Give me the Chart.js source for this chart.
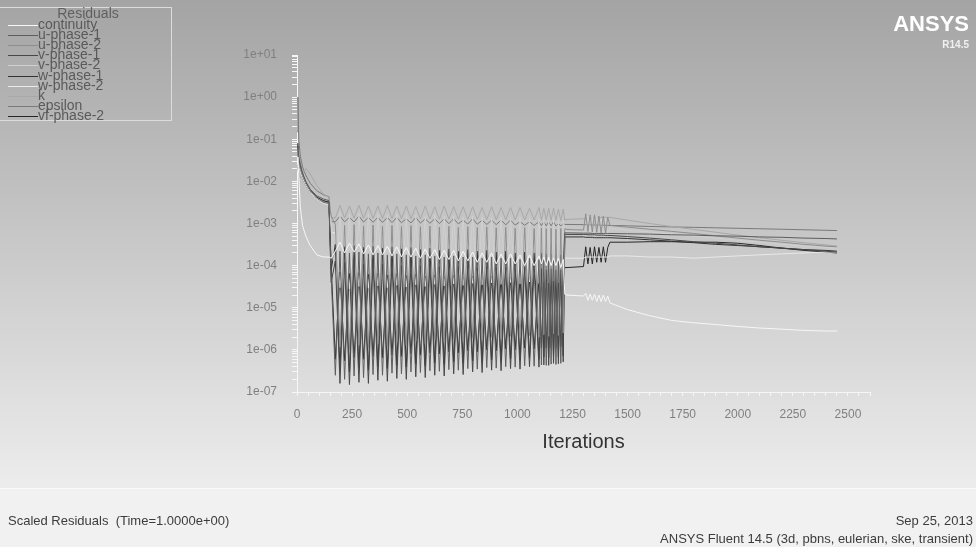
<!DOCTYPE html>
<html>
<head>
<meta charset="utf-8">
<script src="https://cdn.jsdelivr.net/npm/chart.js@4.4.1/dist/chart.umd.min.js"></script>
<style>
  body { margin: 0; background: #f1f1f1; }
  canvas { display: block; }
</style>
</head>
<body>
<canvas id="residuals" width="976" height="547"></canvas>
<script>
// iterations shared by every residual series
var iterations = [
  1, 4, 8, 15, 25, 40, 60, 90, 120, 145, 155,
  174, 195, 216, 238, 259, 281, 302, 324, 345, 367,
  388, 410, 431, 453, 474, 496, 517, 539, 560, 582,
  603, 625, 646, 668, 689, 711, 732, 754, 775, 797,
  818, 840, 861, 883, 904, 926, 947, 969, 990, 1012,
  1033, 1055, 1076, 1098,
  1109, 1120, 1131, 1142, 1153, 1164, 1175, 1186, 1197, 1208,
  1215,
  1225, 1300, 1310, 1320, 1330, 1340, 1350, 1360, 1370, 1380, 1390, 1400, 1410, 1420,
  1500, 1600, 1700, 1800, 1900, 2000, 2100, 2200, 2300, 2400, 2450
];

var continuity = [
  3.8e-2, 2.5e-2, 1.5e-2, 2.5e-3, 9e-4, 5e-4, 3e-4, 1.8e-4, 1.6e-4, 1.6e-4, 1.5e-4,
  2.2e-4, 3.6e-4, 2.0e-4, 3.4e-4, 2.1e-4, 3.3e-4, 1.9e-4, 3.1e-4, 1.8e-4, 3.0e-4,
  1.8e-4, 2.9e-4, 1.7e-4, 2.8e-4, 1.6e-4, 2.7e-4, 1.6e-4, 2.6e-4, 1.5e-4, 2.5e-4,
  1.5e-4, 2.4e-4, 1.4e-4, 2.3e-4, 1.4e-4, 2.3e-4, 1.3e-4, 2.2e-4, 1.3e-4, 2.1e-4,
  1.2e-4, 2.0e-4, 1.2e-4, 2.0e-4, 1.1e-4, 1.9e-4, 1.1e-4, 1.9e-4, 1.1e-4, 1.8e-4,
  1.0e-4, 1.8e-4, 1.0e-4, 1.7e-4,
  1.1e-4, 1.6e-4, 1.0e-4, 1.6e-4, 1.0e-4, 1.5e-4, 1.0e-4, 1.5e-4, 9e-5, 1.4e-4,
  2.1e-5,
  2.0e-5, 1.9e-5, 2.2e-5, 1.5e-5, 2.1e-5, 1.5e-5, 2.1e-5, 1.4e-5, 2.0e-5, 1.4e-5, 2.0e-5, 1.4e-5, 1.9e-5, 1.3e-5,
  9e-6, 6.5e-6, 5e-6, 4.4e-6, 4e-6, 3.6e-6, 3.3e-6, 3.1e-6, 2.9e-6, 2.8e-6, 2.8e-6
];

var uPhase1 = [
  8e-2, 6e-2, 4e-2, 2.6e-2, 1.6e-2, 1e-2, 6.5e-3, 4.5e-3, 3.8e-3, 3.5e-3, 6e-5,
  2.5e-7, 2.2e-4, 2.0e-7, 2.0e-4, 2.4e-7, 2.1e-4, 2.2e-7, 1.9e-4, 2.6e-7, 2.0e-4,
  2.5e-7, 1.8e-4, 2.8e-7, 1.9e-4, 2.7e-7, 1.8e-4, 3.0e-7, 1.7e-4, 2.9e-7, 1.8e-4,
  3.2e-7, 1.7e-4, 3.1e-7, 1.6e-4, 3.4e-7, 1.7e-4, 3.3e-7, 1.6e-4, 3.6e-7, 1.6e-4,
  3.5e-7, 1.5e-4, 3.8e-7, 1.6e-4, 3.7e-7, 1.5e-4, 4.0e-7, 1.5e-4, 3.9e-7, 1.4e-4,
  4.2e-7, 1.5e-4, 4.1e-7, 1.4e-4,
  4.4e-7, 1.4e-4, 4.3e-7, 1.3e-4, 4.6e-7, 1.4e-4, 4.5e-7, 1.3e-4, 4.8e-7, 1.3e-4,
  6e-4,
  6.0e-4, 5.9e-4, 5.9e-4, 5.9e-4, 5.9e-4, 5.8e-4, 5.8e-4, 5.8e-4, 5.8e-4, 5.8e-4, 5.8e-4, 5.8e-4, 5.8e-4, 5.8e-4,
  5.7e-4, 5.6e-4, 5.4e-4, 5.3e-4, 5.1e-4, 5.0e-4, 4.8e-4, 4.7e-4, 4.5e-4, 4.4e-4, 4.3e-4
];

var uPhase2 = [
  6e-2, 4e-2, 2.8e-2, 2e-2, 1.4e-2, 9e-3, 6e-3, 4e-3, 3.3e-3, 3e-3, 1.5e-3,
  9.5e-4, 1.2e-6, 9.0e-4, 1.0e-6, 9.4e-4, 1.3e-6, 8.8e-4, 1.1e-6, 9.2e-4, 1.4e-6,
  8.7e-4, 1.2e-6, 9.0e-4, 1.5e-6, 8.5e-4, 1.3e-6, 8.9e-4, 1.6e-6, 8.4e-4, 1.4e-6,
  8.7e-4, 1.7e-6, 8.2e-4, 1.5e-6, 8.6e-4, 1.8e-6, 8.1e-4, 1.6e-6, 8.4e-4, 1.9e-6,
  8.0e-4, 1.7e-6, 8.3e-4, 2.0e-6, 7.9e-4, 1.8e-6, 8.1e-4, 2.1e-6, 7.7e-4, 1.9e-6,
  8.0e-4, 2.2e-6, 7.6e-4, 2.0e-6,
  7.8e-4, 2.3e-6, 7.5e-4, 2.1e-6, 7.7e-4, 2.4e-6, 7.3e-4, 2.2e-6, 7.6e-4, 2.5e-6,
  7.5e-4,
  7.2e-4, 7.0e-4, 1.7e-3, 6.5e-4, 1.6e-3, 6.3e-4, 1.6e-3, 6.2e-4, 1.5e-3, 6.0e-4, 1.5e-3, 6.0e-4, 1.4e-3, 9e-4,
  8.2e-4, 7.3e-4, 6.5e-4, 5.8e-4, 5.1e-4, 4.5e-4, 4.0e-4, 3.6e-4, 3.2e-4, 2.9e-4, 2.8e-4
];

var vPhase1 = [
  6e-2, 4.5e-2, 3e-2, 2.2e-2, 1.4e-2, 9e-3, 6e-3, 4e-3, 3.2e-3, 3e-3, 4e-5,
  1.3e-4, 1.6e-7, 1.2e-4, 1.5e-7, 1.3e-4, 1.7e-7, 1.1e-4, 1.6e-7, 1.2e-4, 1.9e-7,
  1.1e-4, 1.8e-7, 1.2e-4, 2.1e-7, 1.0e-4, 2.0e-7, 1.1e-4, 2.3e-7, 1.0e-4, 2.2e-7,
  1.1e-4, 2.5e-7, 9.5e-5, 2.4e-7, 1.0e-4, 2.7e-7, 9.5e-5, 2.6e-7, 1.0e-4, 3.0e-7,
  9.0e-5, 2.9e-7, 9.5e-5, 3.3e-7, 9.0e-5, 3.2e-7, 9.0e-5, 3.6e-7, 8.5e-5, 3.5e-7,
  9.0e-5, 4.0e-7, 8.5e-5, 3.9e-7,
  8.5e-5, 4.4e-7, 8.0e-5, 4.3e-7, 8.5e-5, 4.8e-7, 8.0e-5, 4.7e-7, 8.0e-5, 5.2e-7,
  5.6e-4,
  5.5e-4, 5.5e-4, 5.5e-4, 5.4e-4, 5.4e-4, 5.4e-4, 5.4e-4, 5.3e-4, 5.3e-4, 5.3e-4, 5.3e-4, 5.2e-4, 5.2e-4, 5.2e-4,
  4.9e-4, 4.5e-4, 4.1e-4, 3.7e-4, 3.4e-4, 3.1e-4, 2.8e-4, 2.6e-4, 2.4e-4, 2.2e-4, 2.1e-4
];

var vPhase2 = [
  5e-2, 3.5e-2, 2.6e-2, 1.9e-2, 1.3e-2, 8.5e-3, 5.8e-3, 3.9e-3, 3.1e-3, 2.9e-3, 1.2e-3,
  2.0e-5, 1.8e-3, 1.8e-5, 1.7e-3, 2.1e-5, 1.8e-3, 1.9e-5, 1.7e-3, 2.2e-5, 1.7e-3,
  2.0e-5, 1.6e-3, 2.3e-5, 1.7e-3, 2.1e-5, 1.6e-3, 2.4e-5, 1.6e-3, 2.2e-5, 1.5e-3,
  2.5e-5, 1.6e-3, 2.3e-5, 1.5e-3, 2.6e-5, 1.5e-3, 2.4e-5, 1.4e-3, 2.7e-5, 1.5e-3,
  2.5e-5, 1.4e-3, 2.8e-5, 1.4e-3, 2.6e-5, 1.4e-3, 2.9e-5, 1.3e-3, 2.7e-5, 1.4e-3,
  3.0e-5, 1.3e-3, 2.8e-5, 1.3e-3,
  3.1e-5, 1.3e-3, 2.9e-5, 1.2e-3, 3.2e-5, 1.3e-3, 3.0e-5, 1.2e-3, 3.3e-5, 1.2e-3,
  6.5e-4,
  6.4e-4, 6.3e-4, 6.2e-4, 1.5e-3, 6.0e-4, 1.4e-3, 5.9e-4, 1.4e-3, 5.8e-4, 1.3e-3, 5.7e-4, 1.3e-3, 5.7e-4, 7.6e-4,
  7.0e-4, 6.3e-4, 5.6e-4, 5.0e-4, 4.5e-4, 4.0e-4, 3.6e-4, 3.2e-4, 2.9e-4, 2.7e-4, 2.6e-4
];

var wPhase1 = [
  7e-2, 5e-2, 3.2e-2, 2.3e-2, 1.5e-2, 9.5e-3, 6.2e-3, 4.2e-3, 3.5e-3, 3.2e-3, 8e-5,
  3.2e-4, 3.5e-7, 2.8e-4, 3.0e-7, 3.0e-4, 3.8e-7, 2.7e-4, 3.3e-7, 2.9e-4, 4.0e-7,
  2.6e-4, 3.6e-7, 2.8e-4, 4.3e-7, 2.5e-4, 3.9e-7, 2.7e-4, 4.6e-7, 2.4e-4, 4.2e-7,
  2.6e-4, 4.9e-7, 2.3e-4, 4.5e-7, 2.5e-4, 5.2e-7, 2.2e-4, 4.8e-7, 2.4e-4, 5.5e-7,
  2.2e-4, 5.1e-7, 2.3e-4, 5.8e-7, 2.1e-4, 5.4e-7, 2.2e-4, 6.1e-7, 2.0e-4, 5.7e-7,
  2.1e-4, 6.4e-7, 2.0e-4, 6.0e-7,
  2.0e-4, 6.8e-7, 1.9e-4, 6.4e-7, 1.9e-4, 7.0e-7, 1.8e-4, 6.8e-7, 1.8e-4, 7.2e-7,
  4.8e-4,
  4.8e-4, 4.8e-4, 4.7e-4, 4.7e-4, 4.7e-4, 4.7e-4, 4.6e-4, 4.6e-4, 4.6e-4, 4.6e-4, 4.6e-4, 4.6e-4, 4.6e-4, 4.6e-4,
  4.4e-4, 4.1e-4, 3.8e-4, 3.5e-4, 3.2e-4, 3.0e-4, 2.8e-4, 2.6e-4, 2.4e-4, 2.3e-4, 2.2e-4
];

var wPhase2 = [
  4e-2, 3e-2, 2.2e-2, 1.7e-2, 1.2e-2, 8e-3, 5.5e-3, 3.8e-3, 3e-3, 2.8e-3, 6e-4,
  6.0e-4, 3.0e-5, 5.6e-4, 2.8e-5, 5.8e-4, 3.2e-5, 5.4e-4, 2.9e-5, 5.6e-4, 3.3e-5,
  5.3e-4, 3.0e-5, 5.5e-4, 3.4e-5, 5.1e-4, 3.1e-5, 5.3e-4, 3.5e-5, 5.0e-4, 3.2e-5,
  5.2e-4, 3.6e-5, 4.9e-4, 3.3e-5, 5.0e-4, 3.7e-5, 4.7e-4, 3.4e-5, 4.9e-4, 3.8e-5,
  4.6e-4, 3.5e-5, 4.8e-4, 3.9e-5, 4.5e-4, 3.6e-5, 4.6e-4, 4.0e-5, 4.4e-4, 3.7e-5,
  4.5e-4, 4.1e-5, 4.3e-4, 3.8e-5,
  4.4e-4, 4.2e-5, 4.2e-4, 3.9e-5, 4.3e-4, 4.3e-5, 4.1e-4, 4.0e-5, 4.2e-4, 4.4e-5,
  1.5e-4,
  1.5e-4, 1.5e-4, 1.6e-4, 1.6e-4, 1.6e-4, 1.6e-4, 1.6e-4, 1.6e-4, 1.6e-4, 1.6e-4, 1.6e-4, 1.6e-4, 1.6e-4, 1.7e-4,
  1.7e-4, 1.6e-4, 1.6e-4, 1.5e-4, 1.6e-4, 1.7e-4, 1.8e-4, 1.9e-4, 2.0e-4, 2.1e-4, 2.1e-4
];

var kRes = [
  3e-2, 2e-2, 1.5e-2, 1.2e-2, 1.5e-2, 2e-2, 1.5e-2, 8e-3, 5e-3, 4.2e-3, 1.4e-3,
  1.35e-3, 2.7e-3, 1.35e-3, 2.6e-3, 1.34e-3, 2.7e-3, 1.33e-3, 2.6e-3, 1.33e-3, 2.6e-3,
  1.32e-3, 2.7e-3, 1.31e-3, 2.6e-3, 1.3e-3, 2.6e-3, 1.3e-3, 2.5e-3, 1.29e-3, 2.6e-3,
  1.28e-3, 2.5e-3, 1.27e-3, 2.6e-3, 1.27e-3, 2.5e-3, 1.26e-3, 2.5e-3, 1.25e-3, 2.5e-3,
  1.25e-3, 2.4e-3, 1.24e-3, 2.5e-3, 1.23e-3, 2.4e-3, 1.23e-3, 2.4e-3, 1.22e-3, 2.4e-3,
  1.21e-3, 2.3e-3, 1.21e-3, 2.4e-3,
  1.2e-3, 2.3e-3, 1.2e-3, 2.3e-3, 1.19e-3, 2.3e-3, 1.19e-3, 2.2e-3, 1.18e-3, 2.2e-3,
  1.2e-3,
  1.25e-3, 1.3e-3, 1.3e-3, 1.3e-3, 1.3e-3, 1.35e-3, 1.35e-3, 1.35e-3, 1.35e-3, 1.4e-3, 1.4e-3, 1.4e-3, 1.4e-3, 1.4e-3,
  1.2e-3, 1.0e-3, 8.5e-4, 7.2e-4, 6.2e-4, 5.3e-4, 4.6e-4, 4.0e-4, 3.5e-4, 3.1e-4, 2.9e-4
];

var epsilonRes = [
  1.5e-1, 1.0, 1e-1, 4e-2, 2.2e-2, 1.4e-2, 9e-3, 6e-3, 4.8e-3, 4.3e-3, 1.1e-3,
  1.1e-3, 1.5e-3, 1.1e-3, 1.4e-3, 1.09e-3, 1.5e-3, 1.08e-3, 1.4e-3, 1.07e-3, 1.4e-3,
  1.06e-3, 1.4e-3, 1.05e-3, 1.4e-3, 1.04e-3, 1.3e-3, 1.03e-3, 1.4e-3, 1.02e-3, 1.3e-3,
  1.01e-3, 1.3e-3, 1.0e-3, 1.3e-3, 9.9e-4, 1.3e-3, 9.8e-4, 1.2e-3, 9.7e-4, 1.3e-3,
  9.6e-4, 1.2e-3, 9.5e-4, 1.2e-3, 9.4e-4, 1.2e-3, 9.3e-4, 1.2e-3, 9.2e-4, 1.1e-3,
  9.1e-4, 1.1e-3, 9.0e-4, 1.1e-3,
  8.9e-4, 1.1e-3, 8.8e-4, 1.1e-3, 8.8e-4, 1.1e-3, 8.7e-4, 1.0e-3, 8.7e-4, 1.0e-3,
  9.5e-4,
  9.5e-4, 9.4e-4, 9.4e-4, 9.3e-4, 9.3e-4, 9.3e-4, 9.2e-4, 9.2e-4, 9.2e-4, 9.1e-4, 9.1e-4, 9.1e-4, 9.0e-4, 9.0e-4,
  8.8e-4, 8.5e-4, 8.3e-4, 8.1e-4, 7.9e-4, 7.7e-4, 7.5e-4, 7.3e-4, 7.1e-4, 6.9e-4, 6.8e-4
];

var vfPhase2 = [
  5e-2, 3.5e-2, 2.5e-2, 1.8e-2, 1.2e-2, 8e-3, 5.5e-3, 4e-3, 3.4e-3, 3.2e-3, 1e-4,
  6.0e-7, 7.0e-5, 5.5e-7, 6.5e-5, 6.5e-7, 6.8e-5, 6.0e-7, 6.2e-5, 7.0e-7, 6.6e-5,
  6.5e-7, 6.0e-5, 7.5e-7, 6.4e-5, 7.0e-7, 5.8e-5, 8.0e-7, 6.2e-5, 7.5e-7, 5.6e-5,
  8.5e-7, 6.0e-5, 8.0e-7, 5.5e-5, 9.0e-7, 5.8e-5, 8.5e-7, 5.3e-5, 9.5e-7, 5.6e-5,
  9.0e-7, 5.2e-5, 1.0e-6, 5.5e-5, 9.5e-7, 5.0e-5, 1.05e-6, 5.3e-5, 1.0e-6, 4.9e-5,
  1.1e-6, 5.2e-5, 1.05e-6, 4.8e-5,
  1.1e-6, 5.0e-5, 1.1e-6, 4.7e-5, 1.15e-6, 4.9e-5, 1.15e-6, 4.6e-5, 1.2e-6, 4.8e-5,
  9e-5,
  9e-5, 9.5e-5, 2.8e-4, 1.1e-4, 2.7e-4, 1.1e-4, 2.8e-4, 1.2e-4, 2.7e-4, 1.2e-4, 2.8e-4, 1.2e-4, 2.7e-4, 3.6e-4,
  3.6e-4, 3.7e-4, 3.7e-4, 3.6e-4, 3.6e-4, 3.4e-4, 3.0e-4, 2.6e-4, 2.3e-4, 2.1e-4, 2e-4
];

var seriesNames = ["continuity", "u-phase-1", "u-phase-2", "v-phase-1", "v-phase-2",
                   "w-phase-1", "w-phase-2", "k", "epsilon", "vf-phase-2"];
var seriesValues = [continuity, uPhase1, uPhase2, vPhase1, vPhase2,
                    wPhase1, wPhase2, kRes, epsilonRes, vfPhase2];
var seriesColors = ["#f7f7f7", "#5e5e5e", "#8e8e8e", "#474747", "#d0d0d0",
                    "#333333", "#e9e9e9", "#a8a8a8", "#7a7a7a", "#262626"];

var xTickLabels = [0, 250, 500, 750, 1000, 1250, 1500, 1750, 2000, 2250, 2500];
var yTickLabels = [1e-7, 1e-6, 1e-5, 1e-4, 1e-3, 1e-2, 1e-1, 1e0, 1e1];

var FONT = "'Liberation Sans', Arial, sans-serif";
var NARROW = "'Liberation Sans Narrow', 'Liberation Sans', sans-serif";

function expLabel(v) {
	var e = Math.round(Math.log10(v));
	return "1e" + (e < 0 ? "-" : "+") + String(Math.abs(e)).padStart(2, "0");
}

var datasets = seriesNames.map(function (name, i) {
	return {
		label: name,
		data: iterations.map(function (it, j) { return { x: it, y: seriesValues[i][j] }; }),
		borderColor: seriesColors[i],
		borderWidth: 1,
		pointRadius: 0,
		fill: false,
		tension: 0
	};
});

// page furniture: gradient, legend box, logo, footer
var fluentFrame = {
	id: "fluentFrame",
	beforeDraw: function (chart) {
		var c = chart.ctx;
		var g = c.createLinearGradient(0, 0, 0, 485);
		g.addColorStop(0, "#a4a4a4");
		g.addColorStop(1, "#ececec");
		c.save();
		c.fillStyle = g;
		c.fillRect(0, 0, chart.width, 488);
		c.fillStyle = "#f1f1f1";
		c.fillRect(0, 488, chart.width, chart.height - 488);
		c.fillStyle = "#fbfbfb";
		c.fillRect(0, 488, chart.width, 1);
		c.restore();
	},
	afterDraw: function (chart) {
		var c = chart.ctx;
		c.save();
		// legend
		c.strokeStyle = "#dcdcdc";
		c.lineWidth = 1;
		c.strokeRect(-1.5, 7.5, 173, 113);
		c.font = "14px " + FONT;
		c.fillStyle = "#606060";
		c.textAlign = "center";
		c.textBaseline = "middle";
		c.fillText("Residuals", 88, 14);
		c.textAlign = "left";
		chart.data.datasets.forEach(function (ds, i) {
			var y = Math.round(25 + i * 10.1) + 0.5;
			c.strokeStyle = ds.borderColor;
			c.beginPath();
			c.moveTo(8, y);
			c.lineTo(38, y);
			c.stroke();
			c.fillStyle = "#5a5a5a";
			c.fillText(ds.label, 38, y);
		});
		// logo
		c.fillStyle = "#ffffff";
		c.textAlign = "right";
		c.textBaseline = "alphabetic";
		c.font = "bold 22px " + FONT;
		c.fillText("ANSYS", 969, 31);
		c.font = "bold 10px " + FONT;
		c.fillStyle = "#f0f0f0";
		c.fillText("R14.5", 969, 48);
		// footer
		c.fillStyle = "#3c3c3c";
		c.font = "13px " + NARROW;
		c.textBaseline = "middle";
		c.textAlign = "left";
		c.fillText("Scaled Residuals  (Time=1.0000e+00)", 8, 521);
		c.textAlign = "right";
		c.fillText("Sep 25, 2013", 973, 521);
		c.fillText("ANSYS Fluent 14.5 (3d, pbns, eulerian, ske, transient)", 973, 539);
		c.restore();
	}
};

var chart = new Chart(document.getElementById("residuals"), {
	type: "line",
	data: { datasets: datasets },
	plugins: [fluentFrame],
	options: {
		responsive: false,
		animation: false,
		devicePixelRatio: 1,
		layout: { padding: { left: 237, right: 106, top: 55, bottom: 85 } },
		plugins: { legend: { display: false }, tooltip: { enabled: false } },
		scales: {
			x: {
				type: "linear",
				min: 0,
				max: 2600,
				afterBuildTicks: function (s) {
					var t = [];
					for (var v = 0; v <= 2600; v += 50) t.push({ value: v, major: xTickLabels.indexOf(v) >= 0 });
					s.ticks = t;
				},
				afterFit: function (s) { s.height = 70; },
				ticks: {
					autoSkip: false,
					maxRotation: 0,
					padding: 11,
					color: "#808080",
					font: { size: 12, family: FONT },
					callback: function (v) { return xTickLabels.indexOf(v) >= 0 ? String(v) : ""; }
				},
				grid: { drawOnChartArea: false, drawTicks: true, tickLength: 4, tickColor: "#f6f6f6" },
				border: { color: "#f6f6f6" },
				title: {
					display: true,
					text: "Iterations",
					color: "#333333",
					font: { size: 20, family: FONT },
					padding: { top: 4, bottom: 8 }
				}
			},
			y: {
				type: "logarithmic",
				min: 1e-7,
				max: 10,
				afterBuildTicks: function (s) {
					var t = [];
					yTickLabels.forEach(function (p, i) {
						t.push({ value: p, major: true });
						if (i < yTickLabels.length - 1) {
							for (var m = 2; m < 10; m++) t.push({ value: p * m, major: false });
						}
					});
					s.ticks = t;
				},
				afterFit: function (s) { s.width = 60; },
				ticks: {
					autoSkip: false,
					padding: 15,
					color: "#808080",
					font: { size: 12, family: FONT },
					callback: function (v, i, ticks) { return ticks[i].major ? expLabel(v) : ""; }
				},
				grid: { drawOnChartArea: false, drawTicks: true, tickLength: 5, tickColor: "#f6f6f6" },
				border: { color: "#f6f6f6" }
			}
		}
	}
});
</script>
</body>
</html>
